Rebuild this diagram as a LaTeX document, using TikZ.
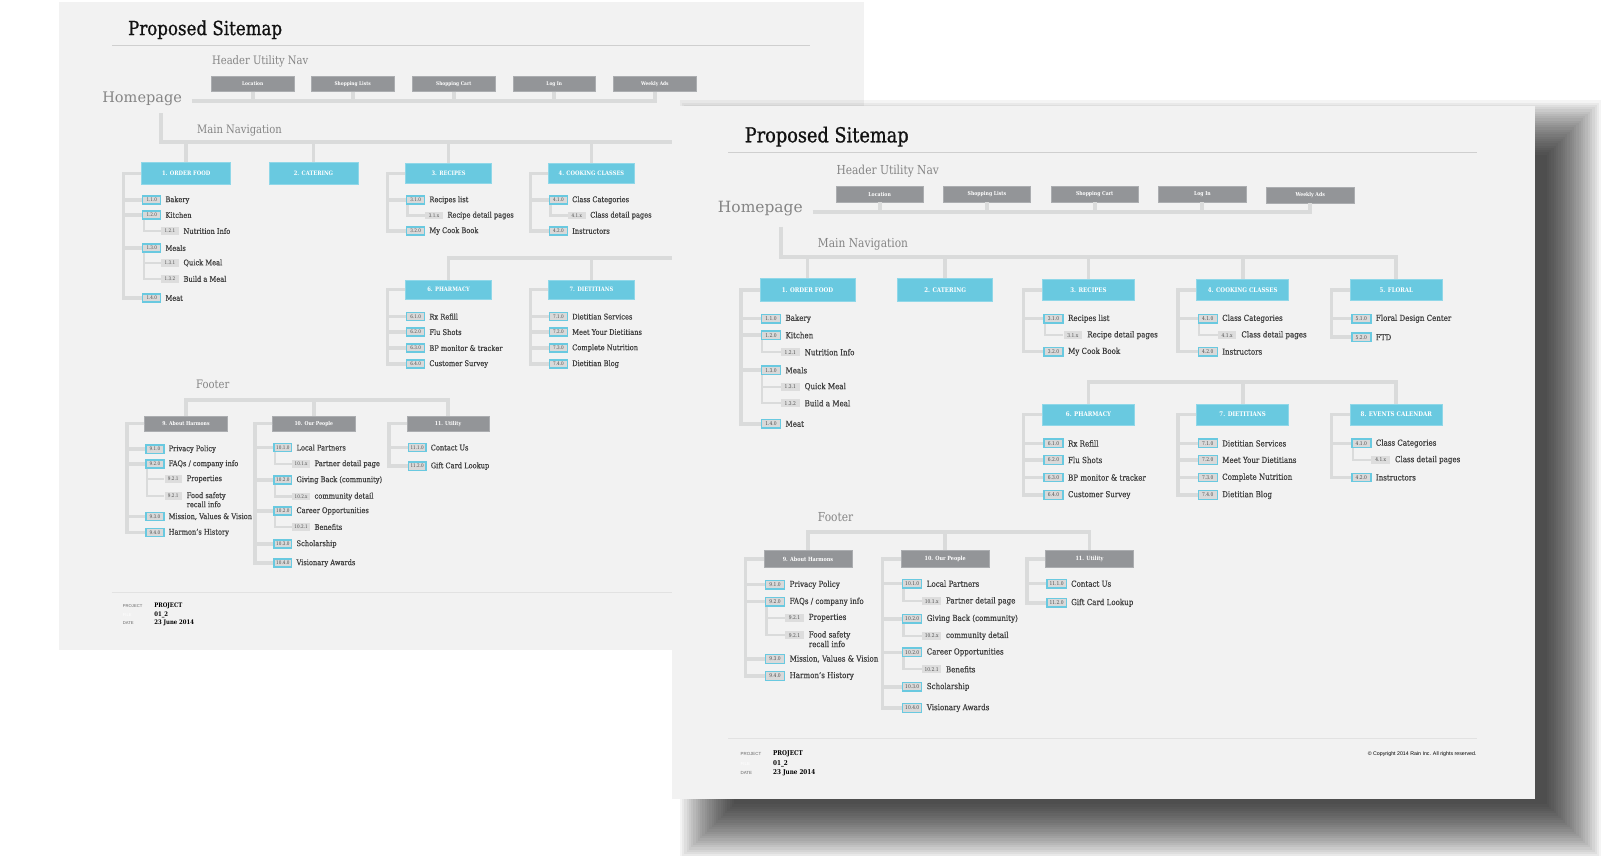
\documentclass[tikz,border=0pt]{standalone}
\usepackage{fontspec}
\newfontfamily\slab[FakeStretch=0.86]{DejaVu Serif}
\newfontfamily\slabm[FakeStretch=0.86,FakeBold=0.4]{DejaVu Serif}
\newfontfamily\slabt[FakeStretch=0.86,FakeBold=0.9]{DejaVu Serif}
\newfontfamily\slabw{DejaVu Serif}
\newfontfamily\sansf{Liberation Sans}
\usetikzlibrary{calc}
\definecolor{sheet}{HTML}{F2F2F2}
\definecolor{conn}{HTML}{DADBDB}
\definecolor{navc}{HTML}{69C9E0}
\definecolor{navedge}{HTML}{8FD7E8}
\definecolor{grayb}{HTML}{939598}
\definecolor{grayedge}{HTML}{ABADB0}
\definecolor{numfill}{HTML}{D9D9D9}
\definecolor{subfill}{HTML}{DDDDDD}
\definecolor{numtext}{HTML}{4A4A4A}
\definecolor{lbltext}{HTML}{404040}
\definecolor{secttext}{HTML}{858585}
\definecolor{titletxt}{HTML}{111111}
\definecolor{rulec}{HTML}{CFCFCF}
\definecolor{infoline}{HTML}{E2E2E2}
\definecolor{infotxt}{HTML}{666666}
\def\shs{1}
\newcommand\fsz[1]{\fontsize{\fpeval{#1*\shs}}{\fpeval{#1*\shs*1.2}}\selectfont}
\tikzset{
  navbox/.style={fill=navc, draw=navedge, line width=0.6pt, inner sep=0pt, minimum width=89pt*\shs, minimum height=20pt*\shs, text=white, font=\slab\bfseries\fsz{6.2}},
  navwide/.style={navbox, minimum width=92pt*\shs, minimum height=22pt*\shs},
  grbox/.style={fill=grayb, draw=grayedge, line width=0.6pt, inner sep=0pt, minimum width=85pt*\shs, minimum height=15pt*\shs, text=white, font=\slab\bfseries\fsz{5.2}},
  footbox/.style={grbox, minimum height=16pt*\shs, font=\slab\bfseries\fsz{5.5}},
  numbox/.style={fill=numfill, draw=navc, line width=1.3pt*\shs, inner sep=0pt, minimum width=18.5pt*\shs, minimum height=8.3pt*\shs, text=numtext, font=\slab\fsz{5}},
  subbox/.style={fill=subfill, inner sep=0pt, minimum width=18pt*\shs, minimum height=8pt*\shs, text=numtext, font=\slab\fsz{5}},
  lbl/.style={inner sep=0pt, text=lbltext, font=\slabm\fsz{8}},
  sect/.style={inner sep=0pt, anchor=base west, text=secttext, font=\slab\fsz{12}},
  titlest/.style={inner sep=0pt, anchor=base west, text=titletxt, font=\slabt\fsz{20}},
  bar/.style={draw=conn, line width=3.8pt*\shs},
  branch/.style={draw=conn, line width=3.4pt*\shs},
  subbranch/.style={draw=conn, line width=2.3pt*\shs},
  info/.style={inner sep=0pt, anchor=base west, text=infotxt, font=\sansf\fsz{4.3}},
  infov/.style={inner sep=0pt, anchor=base west, text=black, font=\slab\bfseries\fsz{6.4}},
}
\newcommand\kid[5]{%
  \coordinate (yy) at (0,#3);
  \node[numbox, anchor=west] (#1) at ($(#2.west |- yy)+(\shs*1,0)$) {#4};
  \node[lbl, anchor=west] (#1l) at ([xshift=\shs*4pt]#1.east) {#5};
  \draw[branch] (#2.west) -- ++(-\shs*18,0) |- (#1.west);
}
\newcommand\skid[5]{%
  \coordinate (yy) at (0,#3);
  \node[subbox, anchor=west] (#1) at ($(#2.west |- yy)+(\shs*19.5,0)$) {#4};
  \node[lbl, anchor=west] (#1l) at ([xshift=\shs*4.5pt]#1.east) {#5};
  \draw[subbranch] ([xshift=\shs*1.5pt]#2.south west) |- (#1.west);
}
\begin{document}
\begin{tikzpicture}[x=1pt, y=-1pt]
\useasboundingbox (0,0) rectangle (1568,830);
\fill[white] (0,0) rectangle (1568,830);

% ================= BACK SHEET =================
\def\shs{0.94}
\fill[sheet] (57,2) rectangle (838,630);
\node[titlest] (btitle) at (124,34) {Proposed Sitemap};
\draw[rulec, line width=1.5pt] (109,44) -- (785.5,44);
\node[sect] (bhun) at (205.5,63) {Header Utility Nav};
\node[grbox] (bloc) at (245,81.5) {Location};
\node[grbox] (bsl) at (342,81.5) {Shopping Lists};
\node[grbox] (bsc) at (440,81.5) {Shopping Cart};
\node[grbox] (blog) at (537.5,81.5) {Log In};
\node[grbox] (bwa) at (635,81.5) {Weekly Ads};
\node[sect, font=\slabw\fsz{15}] (bhome) at (99,99) {Homepage};
\coordinate (bhb) at (186,98);
\draw[bar] (bhb) -| (bwa.south);
\foreach \n in {bloc,bsl,bsc,blog} \draw[bar] (\n.south) -- (\n.south |- bhb);
\node[sect] (bmn) at (191,129) {Main Navigation};
\node[navwide] (bof) at (180.5,168) {1. ORDER FOOD};
\node[navwide] (bcat) at (304,168) {2. CATERING};
\node[navbox] (brec) at (435,168) {3. RECIPES};
\node[navbox] (bcook) at (573.5,168) {4. COOKING CLASSES};
\coordinate (bhp) at (156,110);
\coordinate (bmb) at (720,137.5);
\draw[bar] (bhp) |- (bmb);
\foreach \n in {bof,bcat,brec,bcook} \draw[bar] (\n.north) -- (\n.north |- bmb);
\kid{bk11}{bof}{194}{1.1.0}{Bakery}
\kid{bk12}{bof}{208.5}{1.2.0}{Kitchen}
\skid{bs121}{bk12}{224}{1.2.1}{Nutrition Info}
\kid{bk13}{bof}{240.5}{1.3.0}{Meals}
\skid{bs131}{bk13}{255}{1.3.1}{Quick Meal}
\skid{bs132}{bk13}{270.5}{1.3.2}{Build a Meal}
\kid{bk14}{bof}{289}{1.4.0}{Meat}
\kid{bk31}{brec}{194}{3.1.0}{Recipes list}
\skid{bs31}{bk31}{209}{3.1.x}{Recipe detail pages}
\kid{bk32}{brec}{224}{3.2.0}{My Cook Book}
\kid{bk41}{bcook}{194}{4.1.0}{Class Categories}
\skid{bs41}{bk41}{209}{4.1.x}{Class detail pages}
\kid{bk42}{bcook}{224}{4.2.0}{Instructors}
\node[navbox] (bph) at (435,281) {6. PHARMACY};
\node[navbox] (bdi) at (573.5,281) {7. DIETITIANS};
\coordinate (br2) at (720,250.5);
\draw[bar] (bph.north) |- (br2);
\draw[bar] (bdi.north) -- (bdi.north |- br2);
\kid{bk61}{bph}{307}{6.1.0}{Rx Refill}
\kid{bk62}{bph}{322}{6.2.0}{Flu Shots}
\kid{bk63}{bph}{337.5}{6.3.0}{BP monitor \& tracker}
\kid{bk64}{bph}{353}{6.4.0}{Customer Survey}
\kid{bk71}{bdi}{307}{7.1.0}{Dietitian Services}
\kid{bk72}{bdi}{322}{7.2.0}{Meet Your Dietitians}
\kid{bk73}{bdi}{337.5}{7.3.0}{Complete Nutrition}
\kid{bk74}{bdi}{353}{7.4.0}{Dietitian Blog}
\node[sect] (bfoot) at (190,377) {Footer};
\node[footbox] (bab) at (180.3,411) {9. About Harmons};
\node[footbox] (bpe) at (304.3,411) {10. Our People};
\node[footbox] (but) at (434.5,411) {11. Utility};
\coordinate (bfb) at (300,388);
\draw[bar] (bab.north) |- (bfb) -| (but.north);
\draw[bar] (bpe.north) -- (bpe.north |- bfb);
\kid{bk91}{bab}{435.5}{9.1.0}{Privacy Policy}
\kid{bk92}{bab}{450}{9.2.0}{FAQs / company info}
\skid{bs921}{bk92}{464.5}{9.2.1}{Properties}
\skid{bs922}{bk92}{481}{9.2.1}{Food safety}
\node[lbl, anchor=west] (bs922m) at ([yshift=-8pt]bs922l.west) {recall info};
\kid{bk93}{bab}{501}{9.3.0}{Mission, Values \& Vision}
\kid{bk94}{bab}{516.5}{9.4.0}{Harmon’s History}
\kid{bk101}{bpe}{434}{10.1.0}{Local Partners}
\skid{bs101}{bk101}{450}{10.1.x}{Partner detail page}
\kid{bk102}{bpe}{465.5}{10.2.0}{Giving Back (community)}
\skid{bs102}{bk102}{481.5}{10.2.x}{community detail}
\kid{bk103}{bpe}{495.5}{10.2.0}{Career Opportunities}
\skid{bs103}{bk103}{511}{10.2.1}{Benefits}
\kid{bk104}{bpe}{527.5}{10.3.0}{Scholarship}
\kid{bk105}{bpe}{546}{10.4.0}{Visionary Awards}
\kid{bk111}{but}{434}{11.1.0}{Contact Us}
\kid{bk112}{but}{452}{11.2.0}{Gift Card Lookup}
\draw[infoline, line width=0.8pt] (108.5,574) -- (700,574);
\node[info] (bpl) at (119,589.5) {PROJECT};
\node[info, text=white] (brl) at (119,597.5) {FILE};
\node[info] (bdl) at (119,606) {DATE};
\node[infov] (bpv) at (149.5,589.5) {PROJECT};
\node[infov] (brv) at (149.5,597.5) {01\_2};
\node[infov] (bdv) at (149.5,606) {23 June 2014};

% ================= SHADOW =================
\foreach \k in {0,...,24}
  \fill[black, opacity=0.042] (712-2.2*\k,150-2.2*\k) rectangle (1500+2.2*\k,780+2.2*\k);

% ================= FRONT SHEET =================
\def\shs{1}
\fill[sheet] (652,103) rectangle (1488,775);
\node[titlest] (ftitle) at (722,138) {Proposed Sitemap};
\draw[rulec, line width=1.6pt] (706,148) -- (1432,148);
\node[sect] (fhun) at (811,169) {Header Utility Nav};
\node[grbox] (floc) at (853,188.5) {Location};
\node[grbox] (fsl) at (957,188.5) {Shopping Lists};
\node[grbox] (fsc) at (1061.5,188.5) {Shopping Cart};
\node[grbox] (flog) at (1166,188.5) {Log In};
\node[grbox] (fwa) at (1270.5,189.5) {Weekly Ads};
\node[sect, font=\slabw\fsz{15}] (fhome) at (696,206.5) {Homepage};
\coordinate (fhb) at (788,205.5);
\draw[bar] (fhb) -| (fwa.south);
\foreach \n in {floc,fsl,fsc,flog} \draw[bar] (\n.south) -- (\n.south |- fhb);
\node[sect] (fmn) at (793,240) {Main Navigation};
\node[navwide] (fof) at (783,281) {1. ORDER FOOD};
\node[navwide] (fcat) at (916.5,281) {2. CATERING};
\node[navbox] (frec) at (1055.5,281) {3. RECIPES};
\node[navbox] (fcook) at (1205,281) {4. COOKING CLASSES};
\node[navbox] (fflo) at (1354,281) {5. FLORAL};
\coordinate (fhp) at (757,220);
\coordinate (fmb) at (1000,249);
\draw[bar] (fhp) |- (fmb) -| (fflo.north);
\foreach \n in {fof,fcat,frec,fcook} \draw[bar] (\n.north) -- (\n.north |- fmb);
\kid{fk11}{fof}{309}{1.1.0}{Bakery}
\kid{fk12}{fof}{325}{1.2.0}{Kitchen}
\skid{fs121}{fk12}{341.5}{1.2.1}{Nutrition Info}
\kid{fk13}{fof}{359}{1.3.0}{Meals}
\skid{fs131}{fk13}{375}{1.3.1}{Quick Meal}
\skid{fs132}{fk13}{391}{1.3.2}{Build a Meal}
\kid{fk14}{fof}{411}{1.4.0}{Meat}
\kid{fk31}{frec}{309}{3.1.0}{Recipes list}
\skid{fs31}{fk31}{325}{3.1.x}{Recipe detail pages}
\kid{fk32}{frec}{341}{3.2.0}{My Cook Book}
\kid{fk41}{fcook}{309}{4.1.0}{Class Categories}
\skid{fs41}{fk41}{325}{4.1.x}{Class detail pages}
\kid{fk42}{fcook}{341}{4.2.0}{Instructors}
\kid{fk51}{fflo}{309}{5.1.0}{Floral Design Center}
\kid{fk52}{fflo}{327}{5.2.0}{FTD}
\node[navbox] (fph) at (1055.5,402) {6. PHARMACY};
\node[navbox] (fdi) at (1205,402) {7. DIETITIANS};
\node[navbox] (fev) at (1354,402) {8. EVENTS CALENDAR};
\coordinate (fr2) at (1200,370.5);
\draw[bar] (fph.north) |- (fr2) -| (fev.north);
\draw[bar] (fdi.north) -- (fdi.north |- fr2);
\kid{fk61}{fph}{430}{6.1.0}{Rx Refill}
\kid{fk62}{fph}{446}{6.2.0}{Flu Shots}
\kid{fk63}{fph}{463}{6.3.0}{BP monitor \& tracker}
\kid{fk64}{fph}{480}{6.4.0}{Customer Survey}
\kid{fk71}{fdi}{430}{7.1.0}{Dietitian Services}
\kid{fk72}{fdi}{446}{7.2.0}{Meet Your Dietitians}
\kid{fk73}{fdi}{463}{7.3.0}{Complete Nutrition}
\kid{fk74}{fdi}{480}{7.4.0}{Dietitian Blog}
\kid{fk81}{fev}{430}{4.1.0}{Class Categories}
\skid{fs81}{fk81}{446}{4.1.x}{Class detail pages}
\kid{fk82}{fev}{463}{4.2.0}{Instructors}
\node[sect] (ffoot) at (793,506) {Footer};
\node[footbox] (fab) at (783.5,542) {9. About Harmons};
\node[footbox] (fpe) at (916.5,542) {10. Our People};
\node[footbox] (fut) at (1056.5,542) {11. Utility};
\coordinate (ffb) at (900,516);
\draw[bar] (fab.north) |- (ffb) -| (fut.north);
\draw[bar] (fpe.north) -- (fpe.north |- ffb);
\kid{fk91}{fab}{567}{9.1.0}{Privacy Policy}
\kid{fk92}{fab}{583.5}{9.2.0}{FAQs / company info}
\skid{fs921}{fk92}{599}{9.2.1}{Properties}
\skid{fs922}{fk92}{616}{9.2.1}{Food safety}
\node[lbl, anchor=west] (fs922m) at ([yshift=-8.5pt]fs922l.west) {recall info};
\kid{fk93}{fab}{639}{9.3.0}{Mission, Values \& Vision}
\kid{fk94}{fab}{655.5}{9.4.0}{Harmon’s History}
\kid{fk101}{fpe}{566}{10.1.0}{Local Partners}
\skid{fs101}{fk101}{583}{10.1.x}{Partner detail page}
\kid{fk102}{fpe}{600}{10.2.0}{Giving Back (community)}
\skid{fs102}{fk102}{616.5}{10.2.x}{community detail}
\kid{fk103}{fpe}{632.5}{10.2.0}{Career Opportunities}
\skid{fs103}{fk103}{649}{10.2.1}{Benefits}
\kid{fk104}{fpe}{666}{10.3.0}{Scholarship}
\kid{fk105}{fpe}{686.5}{10.4.0}{Visionary Awards}
\kid{fk111}{fut}{566}{11.1.0}{Contact Us}
\kid{fk112}{fut}{584.5}{11.2.0}{Gift Card Lookup}
\draw[infoline, line width=0.8pt] (706,716.5) -- (1432,716.5);
\node[info] (fpl) at (718,733) {PROJECT};
\node[info, text=white] (frl) at (718,742) {FILE};
\node[info] (fdl) at (718,751) {DATE};
\node[infov] (fpv) at (749.5,733) {PROJECT};
\node[infov] (frv) at (749.5,742) {01\_2};
\node[infov] (fdv) at (749.5,751) {23 June 2014};
\node[info, anchor=base east, text=black, font=\sansf\fsz{5.1}] (fcopy) at (1432,733) {© Copyright 2014 Rain Inc. All rights reserved.};
\end{tikzpicture}
\end{document}
